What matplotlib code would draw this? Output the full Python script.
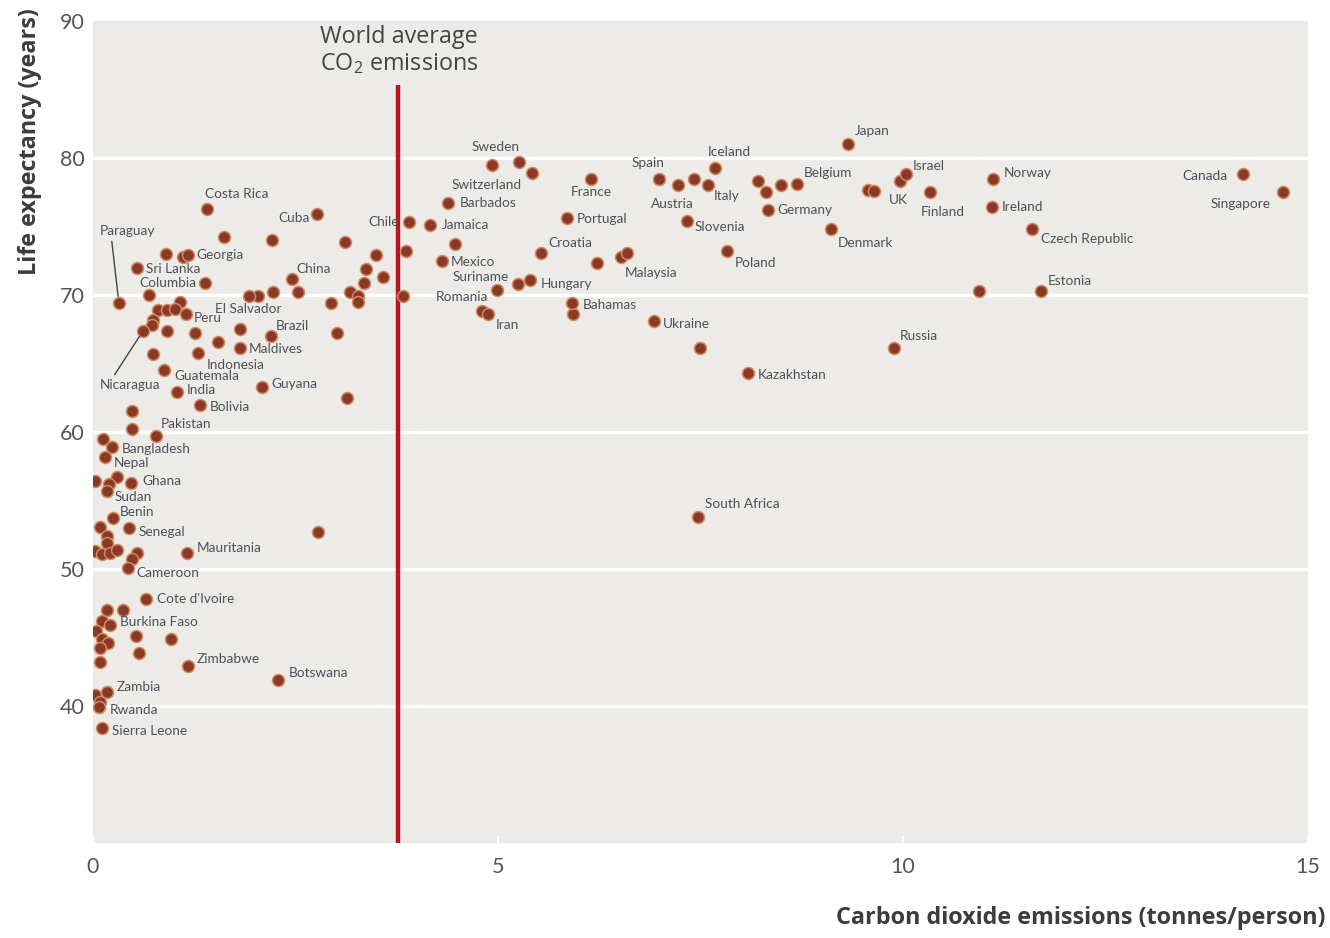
import numpy as np
import matplotlib
matplotlib.use('Agg')
import matplotlib.pyplot as plt

plt.rcParams['font.family'] = ['Lato', 'DejaVu Sans']
plt.rcParams['mathtext.default'] = 'regular'

# labelled countries: CO2 (tonnes/person), life expectancy (years)
names = ['Sweden', 'Switzerland', 'Barbados', 'Jamaica', 'Chile', 'Costa Rica', 'Cuba',
         'Paraguay', 'Georgia', 'Sri Lanka', 'Columbia', 'China', 'El Salvador', 'Peru',
         'Brazil', 'Maldives', 'Indonesia', 'Guatemala', 'Nicaragua', 'India', 'Guyana',
         'Bolivia', 'Pakistan', 'Bangladesh', 'Nepal', 'Ghana', 'Sudan', 'Benin',
         'Senegal', 'Mauritania', 'Cameroon', "Cote d'Ivoire", 'Burkina Faso', 'Zimbabwe',
         'Botswana', 'Zambia', 'Rwanda', 'Sierra Leone', 'Mexico', 'Suriname', 'Hungary',
         'Romania', 'Iran', 'Croatia', 'France', 'Portugal', 'Malaysia', 'Bahamas',
         'Ukraine', 'Spain', 'Austria', 'Italy', 'Iceland', 'Slovenia', 'Poland',
         'Belgium', 'Germany', 'Denmark', 'Japan', 'UK', 'Israel', 'Finland', 'Norway',
         'Ireland', 'Czech Republic', 'Estonia', 'Russia', 'Kazakhstan', 'South Africa',
         'Canada', 'Singapore']
name_co2 = [4.93, 5.42, 4.38, 4.16, 3.90, 1.41, 2.77,
            0.32, 1.17, 0.54, 1.38, 2.46, 1.92, 1.15,
            2.20, 1.81, 1.30, 0.88, 0.62, 1.04, 2.09,
            1.32, 0.78, 0.23, 0.15, 0.47, 0.17, 0.25,
            0.44, 1.16, 0.43, 0.65, 0.21, 1.17,
            2.28, 0.17, 0.07, 0.11, 4.31, 4.99, 5.40,
            4.80, 4.88, 5.53, 6.15, 5.85, 6.59, 5.91,
            6.93, 6.99, 7.22, 7.59, 7.68, 7.33, 7.83,
            8.69, 8.33, 9.11, 9.32, 9.64, 10.04, 10.33, 11.11,
            11.10, 11.59, 11.70, 9.89, 8.09, 7.47,
            14.20, 14.69]
name_life = [79.5, 78.9, 76.7, 75.1, 75.3, 76.3, 75.9,
             69.4, 72.9, 72.0, 70.9, 71.2, 69.9, 68.6,
             67.0, 66.1, 65.8, 64.5, 67.4, 62.9, 63.3,
             62.0, 59.7, 58.9, 58.2, 56.3, 55.7, 53.7,
             53.0, 51.2, 50.1, 47.8, 45.9, 42.9,
             41.9, 41.0, 39.9, 38.4, 72.5, 70.4, 71.1,
             68.8, 68.6, 73.1, 78.5, 75.6, 73.1, 69.4,
             68.1, 78.5, 78.0, 78.0, 79.3, 75.4, 73.2,
             78.1, 76.2, 74.8, 81.0, 77.6, 78.8, 77.5, 78.5,
             76.4, 74.8, 70.3, 66.1, 64.3, 53.8,
             78.8, 77.5]

# unlabelled countries
other_co2 = [1.62, 2.21, 3.11, 3.86, 3.49, 3.37, 3.58, 3.35, 3.17, 3.27, 3.27, 3.83, 2.94,
             2.53, 2.22, 2.04, 1.11, 0.90, 0.69, 1.07, 0.80, 0.91, 1.01, 0.74, 0.73, 0.91,
             1.26, 1.54, 1.81, 0.74, 3.01, 3.14, 0.48, 0.48, 0.12, 0.02, 0.30, 0.20, 0.09,
             2.78, 0.17, 0.17, 0.02, 0.11, 0.21, 0.30, 0.54, 0.48, 0.17, 0.37, 0.11, 0.04,
             0.53, 0.96, 0.11, 0.19, 0.09, 0.57, 0.09, 0.02, 0.09, 4.47, 5.26, 5.25, 6.22,
             6.52, 5.93, 7.42, 7.49, 8.21, 8.31, 8.49, 9.57, 9.96, 10.94]
other_life = [74.2, 74.0, 73.9, 73.2, 72.9, 71.9, 71.3, 70.9, 70.2, 69.9, 69.5, 69.9, 69.4,
              70.2, 70.2, 69.9, 72.8, 73.0, 70.0, 69.5, 68.9, 68.9, 69.0, 68.2, 67.8, 67.4,
              67.2, 66.6, 67.5, 65.7, 67.2, 62.5, 61.5, 60.2, 59.5, 56.4, 56.7, 56.2, 53.1,
              52.7, 52.4, 51.9, 51.3, 51.1, 51.2, 51.4, 51.2, 50.7, 47.0, 47.0, 46.2, 45.5,
              45.1, 44.9, 44.9, 44.6, 44.2, 43.9, 43.2, 40.8, 40.3, 73.7, 79.7, 70.8, 72.3,
              72.8, 68.6, 78.5, 66.1, 78.3, 77.5, 78.0, 77.7, 78.3, 70.3]

world_avg = 3.77

# label placement: offset in pixels from the point, alignment
label_pos = {
    'Sweden': (3, 18, 'center'), 'Switzerland': (-45, -12, 'center'),
    'Barbados': (12, 0, 'left'), 'Jamaica': (12, 0, 'left'), 'Chile': (-10, 0, 'right'),
    'Costa Rica': (30, 15, 'center'), 'Cuba': (-8, -4, 'right'),
    'Georgia': (9, 0, 'left'), 'Sri Lanka': (9, -1, 'left'), 'Columbia': (-8, 0, 'right'),
    'China': (4, 10, 'left'), 'El Salvador': (0, -13, 'center'), 'Peru': (8, -4, 'left'),
    'Brazil': (5, 10, 'left'), 'Maldives': (9, -1, 'left'), 'Indonesia': (8, -12, 'left'),
    'Guatemala': (10, -6, 'left'), 'India': (10, 2, 'left'), 'Guyana': (9, 3, 'left'),
    'Bolivia': (10, -2, 'left'), 'Pakistan': (5, 12, 'left'), 'Bangladesh': (10, -2, 'left'),
    'Nepal': (9, -6, 'left'), 'Ghana': (11, 2, 'left'), 'Sudan': (8, -6, 'left'),
    'Benin': (7, 6, 'left'), 'Senegal': (10, -4, 'left'), 'Mauritania': (10, 5, 'left'),
    'Cameroon': (9, -5, 'left'), "Cote d'Ivoire": (11, 0, 'left'),
    'Burkina Faso': (10, 3, 'left'), 'Zimbabwe': (9, 7, 'left'), 'Botswana': (11, 7, 'left'),
    'Zambia': (10, 5, 'left'), 'Rwanda': (11, -3, 'left'), 'Sierra Leone': (10, -3, 'left'),
    'Mexico': (9, -1, 'left'), 'Suriname': (-17, 13, 'center'), 'Hungary': (10, -4, 'left'),
    'Romania': (-20, 14, 'center'), 'Iran': (7, -11, 'left'), 'Croatia': (7, 10, 'left'),
    'France': (0, -13, 'center'), 'Portugal': (10, -1, 'left'), 'Malaysia': (-2, -20, 'left'),
    'Bahamas': (11, -2, 'left'), 'Ukraine': (9, -3, 'left'), 'Spain': (-11, 16, 'center'),
    'Austria': (-5, -19, 'center'), 'Italy': (6, -11, 'left'), 'Iceland': (14, 16, 'center'),
    'Slovenia': (8, -6, 'left'), 'Poland': (8, -12, 'left'), 'Belgium': (7, 11, 'left'),
    'Germany': (10, 0, 'left'), 'Denmark': (7, -14, 'left'), 'Japan': (7, 13, 'left'),
    'UK': (15, -9, 'left'), 'Israel': (7, 8, 'left'), 'Finland': (13, -20, 'center'),
    'Norway': (11, 6, 'left'), 'Ireland': (10, 0, 'left'), 'Czech Republic': (9, -10, 'left'),
    'Estonia': (7, 10, 'left'), 'Russia': (6, 12, 'left'), 'Kazakhstan': (9, -2, 'left'),
    'South Africa': (7, 13, 'left'), 'Canada': (-16, -2, 'right'),
    'Singapore': (-12, -12, 'right'),
}
# labels joined to their dot by a leader line: offset, relpos of line start
leader_pos = {'Paraguay': (9, 72, (0.2, 0.0)), 'Nicaragua': (-13, -54, (0.2, 1.0))}

BG = '#ecebe8'
DOT = '#8a3828'
RING = '#cf8a5e'
TXT = '#4d5157'
LABEL_FONT = ['Open Sans', 'DejaVu Sans']

fig = plt.figure(figsize=(13.3, 9.38), dpi=100)
ax = fig.add_axes([93 / 1330, 1 - 843 / 938, 1215 / 1330, 822 / 938])
ax.set_facecolor(BG)
for s in ax.spines.values():
    s.set_visible(False)

ax.set_xlim(0, 15)
ax.set_ylim(30, 90)
ax.set_xticks([0, 5, 10, 15])
ax.set_yticks([40, 50, 60, 70, 80, 90])
ax.tick_params(axis='x', direction='in', length=5, width=1.5, color='white',
               labelsize=15.5, labelcolor='#555555', pad=10)
ax.tick_params(axis='y', length=0, labelsize=15.5, labelcolor='#555555', pad=6)
for yv in [40, 50, 60, 70, 80]:
    ax.axhline(yv, color='white', lw=2.4, zorder=1)

ax.plot([world_avg, world_avg], [30, 85.3], color='#b8161e', lw=3.2, zorder=2,
        solid_capstyle='butt')
ax.text(2.80, 89.7, 'World average\nCO$_2$ emissions', fontsize=16.8, color='#444444',
        va='top', ha='left', linespacing=1.1, family=LABEL_FONT)

ax.scatter(other_co2, other_life, s=74, c=DOT, edgecolors=RING, linewidths=1.1, zorder=3)
ax.scatter(name_co2, name_life, s=74, c=DOT, edgecolors=RING, linewidths=1.1, zorder=3)

for n, x, y in zip(names, name_co2, name_life):
    if n in leader_pos:
        dx, dy, rp = leader_pos[n]
        ax.annotate(n, (x, y), xytext=(dx, dy), textcoords='offset pixels',
                    ha='center', va='center', fontsize=9.8, color=TXT,
                    arrowprops=dict(arrowstyle='-', color='#444444', lw=1,
                                    shrinkA=1, shrinkB=5, relpos=rp), zorder=4)
    else:
        dx, dy, ha = label_pos[n]
        ax.annotate(n, (x, y), xytext=(dx, dy), textcoords='offset pixels',
                    ha=ha, va='center', fontsize=9.8, color=TXT, zorder=4)

fig.text(1325 / 1330, 1 - 918 / 938, 'Carbon dioxide emissions (tonnes/person)',
         ha='right', va='center', fontsize=16.8, fontweight='bold', color='#3c3c3c',
         family=LABEL_FONT)
fig.text(30 / 1330, 1 - 8 / 938, 'Life expectancy (years)', rotation=90,
         ha='center', va='top', fontsize=16.8, fontweight='bold', color='#3c3c3c',
         family=LABEL_FONT)

fig.savefig('out.png', dpi=100, facecolor='white')
